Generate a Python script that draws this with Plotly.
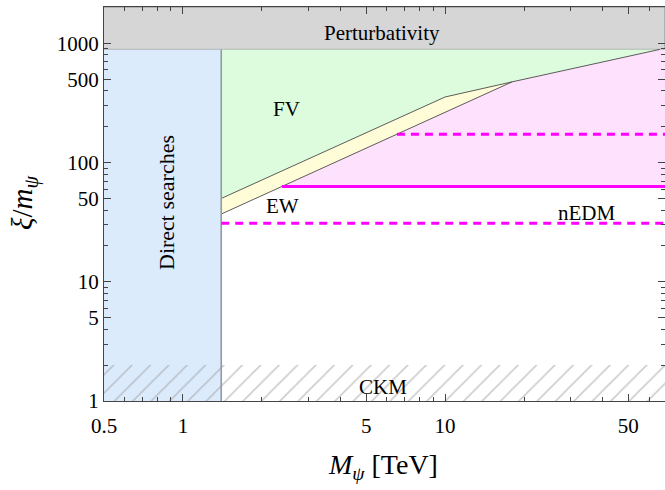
import numpy as np
import plotly.graph_objects as go

# ---------------- data ----------------
x_min, x_max = 0.5, 69.0          # axis range, TeV
y_min, y_max = 1.0, 2018.0        # axis range, xi/m_psi
direct_search_limit = 1.4         # TeV
perturbativity_limit = 890.0
ckm_limit = 2.0

fv_x = [1.4, 10.0, 18.0, 66.0]    # FV / EW boundary (upper line)
fv_y = [50.0, 355.0, 475.0, 890.0]
ew_x = [1.4, 18.0]                # EW lower boundary
ew_y = [37.0, 475.0]

nedm_central = 63.0
nedm_low = 31.0
nedm_high = 173.0

x_major = [0.5, 1, 5, 10, 50]
x_major_text = ["0.5", "1", "5", "10", "50"]
x_minor = [0.6, 0.7, 0.8, 0.9, 2, 3, 4, 6, 7, 8, 9, 20, 30, 40, 60]
y_major = [1, 5, 10, 50, 100, 500, 1000]
y_major_text = ["1", "5", "10", "50", "100", "500", "1000"]
y_minor = [2, 3, 4, 6, 7, 8, 9, 20, 30, 40, 60, 70, 80, 90,
           200, 300, 400, 600, 700, 800, 900]

# ---------------- derived -----------------
def x_on_ew(yv):
    lx = np.log10(ew_x)
    ly = np.log10(ew_y)
    return 10 ** np.interp(np.log10(yv), ly, lx)

x_nedm_c = float(x_on_ew(nedm_central))
x_nedm_h = float(x_on_ew(nedm_high))

FONT = "Liberation Serif"
fig = go.Figure()

def poly(xs, ys, fill, line_color="rgba(0,0,0,0)", lw=0):
    fig.add_trace(go.Scatter(x=xs, y=ys, mode="lines", fill="toself",
                             fillcolor=fill, line=dict(color=line_color, width=lw),
                             hoverinfo="skip", showlegend=False))

# perturbativity band
poly([x_min, x_max, x_max, x_min], [perturbativity_limit, perturbativity_limit, y_max, y_max],
     "#d6d6d6", "#8a8a8a", 1)
# direct searches
poly([x_min, direct_search_limit, direct_search_limit, x_min],
     [y_min, y_min, perturbativity_limit, perturbativity_limit], "#dcebfc")
# FV (green)
poly([direct_search_limit] + fv_x + [direct_search_limit],
     [perturbativity_limit] + fv_y + [perturbativity_limit], "#ddfcdd")
# EW (yellow)
poly(fv_x[:3] + [ew_x[0]], fv_y[:3] + [ew_y[0]], "#fffdd7")
# nEDM (pink)
poly([x_nedm_c, ew_x[1], fv_x[3], x_max, x_max],
     [nedm_central, ew_y[1], fv_y[3], perturbativity_limit, nedm_central], "#fee1fd")

# CKM hatch
fig.add_trace(go.Scatter(x=[x_min, x_max, x_max, x_min], y=[y_min, y_min, ckm_limit, ckm_limit],
                         mode="lines", fill="toself", fillcolor="rgba(0,0,0,0)",
                         fillpattern=dict(shape="/", fgcolor="#999999", bgcolor="rgba(0,0,0,0)",
                                          size=13, solidity=0.12),
                         line=dict(width=0, color="rgba(0,0,0,0)"),
                         hoverinfo="skip", showlegend=False))

# boundary lines
fig.add_trace(go.Scatter(x=fv_x, y=fv_y, mode="lines", line=dict(color="#4a4a4a", width=0.9),
                         hoverinfo="skip", showlegend=False))
fig.add_trace(go.Scatter(x=ew_x, y=ew_y, mode="lines", line=dict(color="#4a4a4a", width=0.9),
                         hoverinfo="skip", showlegend=False))
fig.add_trace(go.Scatter(x=[direct_search_limit, direct_search_limit],
                         y=[y_min, perturbativity_limit], mode="lines",
                         line=dict(color="#8e9ba8", width=1.6),
                         hoverinfo="skip", showlegend=False))

# nEDM lines
fig.add_trace(go.Scatter(x=[x_nedm_c, x_max], y=[nedm_central, nedm_central], mode="lines",
                         line=dict(color="#ff00ff", width=3), hoverinfo="skip", showlegend=False))
fig.add_trace(go.Scatter(x=[x_nedm_h, x_max], y=[nedm_high, nedm_high], mode="lines",
                         line=dict(color="#ff00ff", width=3, dash="8px,6px"),
                         hoverinfo="skip", showlegend=False))
fig.add_trace(go.Scatter(x=[direct_search_limit, x_max], y=[nedm_low, nedm_low], mode="lines",
                         line=dict(color="#ff00ff", width=3, dash="8px,6px"),
                         hoverinfo="skip", showlegend=False))

L, R, T, B = 104, 0, 7, 89
W, H = 665, 490
pw, ph = W - L - R, H - T - B

def px(x):
    return (x - L) / pw

def py(y):
    return (H - B - y) / ph

def label(text, x, y, size=21, angle=0):
    fig.add_annotation(text=text, x=px(x), y=py(y), xref="paper", yref="paper",
                       xanchor="center", yanchor="middle", showarrow=False,
                       textangle=angle, font=dict(family=FONT, size=size, color="black"))

label("Perturbativity", 382, 33)
label("FV", 286, 109)
label("EW", 282, 206)
label("nEDM", 586, 213)
label("CKM", 383, 387)
label("Direct searches", 166, 203, size=22, angle=-90)
label("<i>M</i><sub><i>ψ</i></sub> [TeV]", 383, 466, size=28)
label("<i>ξ</i>/<i>m</i><sub><i>ψ</i></sub>", 24, 203, size=29, angle=-90)

axis_common = dict(type="log", showgrid=False, zeroline=False, showline=True,
                   linecolor="#444444", linewidth=1, mirror="allticks",
                   ticks="inside", ticklen=7, tickcolor="#444444", tickwidth=1,
                   tickfont=dict(family=FONT, size=21, color="black"))

fig.update_xaxes(**axis_common, range=[np.log10(x_min), np.log10(x_max)],
                 tickmode="array", tickvals=x_major, ticktext=x_major_text,
                 ticklabelstandoff=6,
                 minor=dict(tickmode="array", tickvals=x_minor, ticks="inside",
                            ticklen=4, tickcolor="#444444"))
fig.update_yaxes(**axis_common, range=[np.log10(y_min), np.log10(y_max)],
                 tickmode="array", tickvals=y_major, ticktext=y_major_text,
                 minor=dict(tickmode="array", tickvals=y_minor, ticks="inside",
                            ticklen=4, tickcolor="#444444"))

fig.update_layout(width=W, height=H, margin=dict(l=L, r=R, t=T, b=B, autoexpand=False),
                  plot_bgcolor="white", paper_bgcolor="white")

fig.write_html("out.html", config={"displayModeBar": False},
               post_script="document.body.style.margin='0';document.body.style.overflow='hidden';")
